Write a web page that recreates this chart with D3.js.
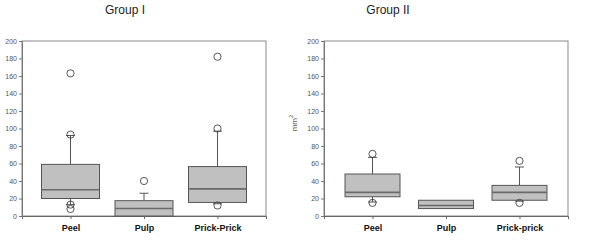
<!DOCTYPE html>
<html>
<head>
<meta charset="utf-8">
<script src="https://cdn.jsdelivr.net/npm/d3@7/dist/d3.min.js"></script>
<style>
  body { margin: 0; background: #fff; }
  svg { display: block; }
</style>
</head>
<body>
<svg id="chart" width="600" height="241"></svg>
<script>
// data (mm^2)
const yTicks = [0, 20, 40, 60, 80, 100, 120, 140, 160, 180, 200];

const catsI = ["Peel", "Pulp", "Prick-Prick"];
const q1I = [20, 0, 15.5];
const medI = [30, 8.5, 31];
const q3I = [59, 17.5, 56.5];
const loI = [13, 0, 14];
const hiI = [92, 26, 97];
const outI = [[163, 93, 13, 8], [40], [182, 100, 12]];

const catsII = ["Peel", "Pulp", "Prick-prick"];
const q1II = [22, 8.5, 18];
const medII = [27, 12, 27];
const q3II = [48, 18, 35];
const loII = [16, 8.5, 17];
const hiII = [67, 18, 56];
const outII = [[71, 15], [], [63, 15]];

const svg = d3.select("#chart");
const plotTop = 41, plotBottom = 216;

function panel(x0, x1, title, titleX, cats, q1, med, q3, lo, hi, outs, boxW, yLabel) {
  const y = d3.scaleLinear().domain([0, 200]).range([plotBottom, plotTop]);
  const x = d3.scalePoint().domain(cats).range([x0, x1]).padding(0.66);
  const g = svg.append("g");

  // title
  g.append("text").attr("x", titleX).attr("y", 14)
    .attr("text-anchor", "middle")
    .style("font", "12px 'Liberation Sans', Arial, sans-serif")
    .style("fill", "#222").text(title);

  // frame
  g.append("rect").attr("x", x0).attr("y", plotTop)
    .attr("width", x1 - x0).attr("height", plotBottom - plotTop)
    .attr("fill", "none").attr("stroke", "#8a8a8a").attr("stroke-width", 1);

  // y axis
  const ya = g.append("g").attr("transform", `translate(${x0},0)`)
    .call(d3.axisLeft(y).tickValues(yTicks).tickSize(3).tickPadding(2));
  ya.select(".domain").attr("stroke", "#777");
  ya.selectAll(".tick line").attr("stroke", "#777");
  ya.selectAll(".tick text")
    .style("font", "7px 'Liberation Sans', Arial, sans-serif")
    .style("fill", "#555");

  // x axis
  const xa = g.append("g").attr("transform", `translate(0,${plotBottom})`)
    .call(d3.axisBottom(x).tickSize(3).tickPadding(6));
  xa.select(".domain").attr("stroke", "#666");
  xa.selectAll(".tick line").attr("stroke", "#666");
  xa.selectAll(".tick text")
    .style("font", "bold 9px 'Liberation Sans', Arial, sans-serif")
    .style("fill", "#111");

  if (yLabel) {
    const t = g.append("text")
      .attr("transform", `translate(${x0 - 27},123) rotate(-90)`)
      .attr("text-anchor", "middle")
      .style("font", "8px 'Liberation Sans', Arial, sans-serif")
      .style("fill", "#555");
    t.append("tspan").text("mm");
    t.append("tspan").attr("dy", -4).style("font-size", "6px").text("2");
  }

  cats.forEach((c, i) => {
    const cx = x(c);
    const cap = 4.5;
    // whiskers
    if (hi[i] > q3[i]) {
      g.append("line").attr("x1", cx).attr("x2", cx).attr("y1", y(q3[i])).attr("y2", y(hi[i])).attr("stroke", "#555");
      g.append("line").attr("x1", cx - cap).attr("x2", cx + cap).attr("y1", y(hi[i])).attr("y2", y(hi[i])).attr("stroke", "#555");
    }
    if (lo[i] < q1[i]) {
      g.append("line").attr("x1", cx).attr("x2", cx).attr("y1", y(q1[i])).attr("y2", y(lo[i])).attr("stroke", "#555");
      g.append("line").attr("x1", cx - cap).attr("x2", cx + cap).attr("y1", y(lo[i])).attr("y2", y(lo[i])).attr("stroke", "#555");
    }
    // box
    g.append("rect").attr("x", cx - boxW / 2).attr("y", y(q3[i]))
      .attr("width", boxW).attr("height", y(q1[i]) - y(q3[i]))
      .attr("fill", "#c0c0c0").attr("stroke", "#555").attr("stroke-width", 1);
    // median
    g.append("line").attr("x1", cx - boxW / 2).attr("x2", cx + boxW / 2)
      .attr("y1", y(med[i])).attr("y2", y(med[i]))
      .attr("stroke", "#6a6a6a").attr("stroke-width", 1.6);
    // outliers
    outs[i].forEach(v => {
      g.append("circle").attr("cx", cx).attr("cy", y(v)).attr("r", 3.6)
        .attr("fill", "none").attr("stroke", "#444").attr("stroke-width", 0.9);
    });
  });
}

panel(22, 266, "Group I", 125, catsI, q1I, medI, q3I, loI, hiI, outI, 58, false);
panel(324, 568, "Group II", 388, catsII, q1II, medII, q3II, loII, hiII, outII, 55, true);
</script>
</body>
</html>
